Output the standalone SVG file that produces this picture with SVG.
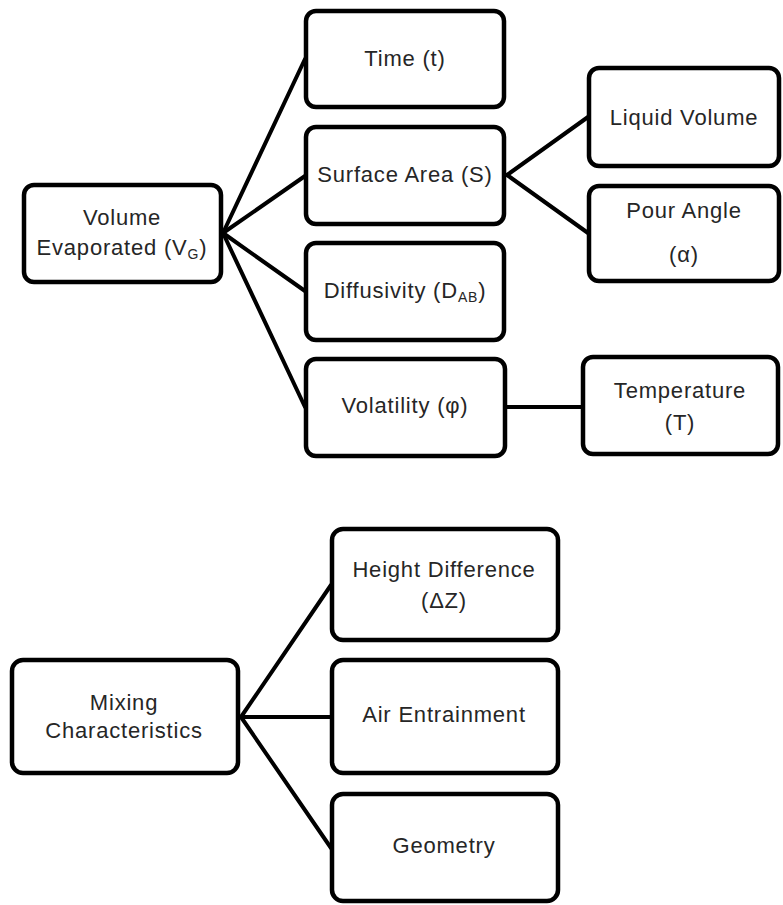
<svg xmlns="http://www.w3.org/2000/svg" width="783" height="905" viewBox="0 0 783 905">
<style>
.box{fill:#fff;stroke:#000;stroke-width:4.5}
.lbl{font-family:"Liberation Sans",Arial,sans-serif;font-size:22px;fill:#262626;text-anchor:middle;letter-spacing:0.8px}
.sub{font-size:14px}
#connectors line{stroke:#000;stroke-width:4;stroke-linecap:round}
</style>
<rect width="783" height="905" fill="#fff"/>
<g id="connectors">
<line x1="223" y1="233" x2="305" y2="59"/>
<line x1="223" y1="233" x2="305" y2="176"/>
<line x1="223" y1="233" x2="305" y2="291"/>
<line x1="223" y1="233" x2="305" y2="407"/>
<line x1="507" y1="175" x2="588" y2="117"/>
<line x1="507" y1="175" x2="588" y2="233"/>
<line x1="507" y1="407" x2="582" y2="407"/>
<line x1="241" y1="717" x2="331" y2="585"/>
<line x1="241" y1="717" x2="331" y2="717"/>
<line x1="241" y1="717" x2="331" y2="848"/>
</g>
<g id="volume">
<rect class="box" x="24" y="185" width="197" height="97" rx="10"/>
<text class="lbl" x="122" y="225">Volume</text>
<text class="lbl" x="122" y="255">Evaporated (V<tspan class="sub" dy="4">G</tspan><tspan dy="-4">)</tspan></text>
</g>
<g id="time">
<rect class="box" x="306" y="11" width="198" height="96" rx="10"/>
<text class="lbl" x="405" y="66">Time (t)</text>
</g>
<g id="surface">
<rect class="box" x="306" y="127" width="198" height="97" rx="10"/>
<text class="lbl" x="405" y="182">Surface Area (S)</text>
</g>
<g id="diffusivity">
<rect class="box" x="306" y="243" width="198" height="97" rx="10"/>
<text class="lbl" x="405" y="298">Diffusivity (D<tspan class="sub" dy="4">AB</tspan><tspan dy="-4">)</tspan></text>
</g>
<g id="volatility">
<rect class="box" x="306" y="359" width="199" height="97" rx="10"/>
<text class="lbl" x="405" y="413">Volatility (φ)</text>
</g>
<g id="liquid">
<rect class="box" x="589" y="68" width="190" height="98" rx="10"/>
<text class="lbl" x="684" y="125">Liquid Volume</text>
</g>
<g id="pour">
<rect class="box" x="589" y="186" width="190" height="95" rx="10"/>
<text class="lbl" x="684" y="218">Pour Angle</text>
<text class="lbl" x="684" y="262">(α)</text>
</g>
<g id="temperature">
<rect class="box" x="583" y="357" width="195" height="97" rx="10"/>
<text class="lbl" x="680" y="398">Temperature</text>
<text class="lbl" x="680" y="430">(T)</text>
</g>
<g id="mixing">
<rect class="box" x="12" y="660" width="226" height="113" rx="11"/>
<text class="lbl" x="124" y="710">Mixing</text>
<text class="lbl" x="124" y="738">Characteristics</text>
</g>
<g id="height">
<rect class="box" x="332" y="529" width="226" height="111" rx="11"/>
<text class="lbl" x="444" y="577">Height Difference</text>
<text class="lbl" x="444" y="608">(ΔZ)</text>
</g>
<g id="air">
<rect class="box" x="332" y="660" width="226" height="113" rx="11"/>
<text class="lbl" x="444" y="722">Air Entrainment</text>
</g>
<g id="geometry">
<rect class="box" x="332" y="794" width="226" height="107" rx="11"/>
<text class="lbl" x="444" y="853">Geometry</text>
</g>
</svg>
